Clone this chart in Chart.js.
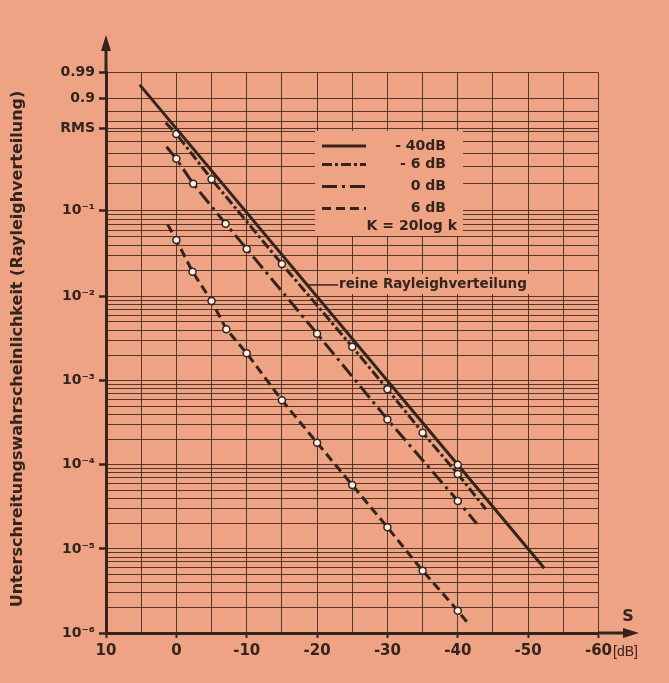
<!DOCTYPE html>
<html>
<head>
<meta charset="utf-8">
<script src="https://cdn.jsdelivr.net/npm/chart.js@4.4.1/dist/chart.umd.min.js"></script>
<style>
  html, body { margin: 0; background: #efa385; }
  canvas { display: block; }
</style>
</head>
<body>
<canvas id="chart" width="669" height="683"></canvas>
<script>
// S in dB (x), Unterschreitungswahrscheinlichkeit P (y)
// each curve: start/end of the drawn line plus the measured (circle) points

// -40 dB = reine Rayleighverteilung
const rayEndDb = [5.2, -52.3];
const rayEndP = [0.963, 5.9e-6];
const rayMarkDb = [-40];
const rayMarkP = [1e-4];

// -6 dB
const m6EndDb = [1.5, -44];
const m6EndP = [0.69, 2.96e-5];
const m6MarkDb = [0, -5, -15, -25, -30, -35, -40];
const m6MarkP = [0.576, 0.221, 0.0241, 2.53e-3, 7.9e-4, 2.41e-4, 7.8e-5];

// 0 dB
const z0EndDb = [1.4, -42.7];
const z0EndP = [0.454, 2.0e-5];
const z0MarkDb = [0, -2.4, -7, -10, -20, -30, -40];
const z0MarkP = [0.353, 0.197, 0.071, 0.0363, 3.62e-3, 3.47e-4, 3.72e-5];

// 6 dB
const p6EndDb = [1.25, -41.4];
const p6EndP = [0.0698, 1.32e-6];
const p6MarkDb = [0, -2.3, -5, -7.1, -10, -15, -20, -25, -30, -35, -40];
const p6MarkP = [0.046, 0.0196, 8.85e-3, 4.1e-3, 2.12e-3, 5.85e-4, 1.83e-4, 5.75e-5, 1.81e-5, 5.5e-6, 1.84e-6];

const legendLabels = ['- 40dB', '- 6 dB', '0 dB', '6 dB'];
const kNote = 'K = 20log k';
const annoText = 'reine Rayleighverteilung';

const xTicks = [10, 0, -10, -20, -30, -40, -50, -60];
const xTickLabels = ['10', '0', '-10', '-20', '-30', '-40', '-50', '-60'];
const yTickP = [1e-6, 1e-5, 1e-4, 1e-3, 1e-2, 1e-1, 1 - Math.exp(-1), 0.9, 0.99];
const yTickLabels = ['10⁻⁶', '10⁻⁵', '10⁻⁴', '10⁻³', '10⁻²', '10⁻¹', 'RMS', '0.9', '0.99'];
const yTopGridP = [0.2, 0.3, 0.4, 0.5, 0.6, 0.7, 0.8];

const BG = '#efa385';
const INK = '#34241c';
const GRID = 'rgba(60,36,26,0.85)';

// Rayleigh paper: the axis is logarithmic in -ln(1-P)
const ray = p => -Math.log(1 - p);

function curve(endDb, endP, markDb, markP) {
  const pts = markDb.map((d, i) => ({ x: d, y: ray(markP[i]) }));
  pts.unshift({ x: endDb[0], y: ray(endP[0]) });
  pts.push({ x: endDb[1], y: ray(endP[1]) });
  return pts;
}

// horizontal grid: log minors in the lower decades, P lines in the top one
const gridP = [];
for (let n = -6; n <= -2; n++) {
  for (let k = 1; k <= 9; k++) gridP.push(k * Math.pow(10, n));
}
yTopGridP.forEach(p => gridP.push(p));
yTickP.forEach(p => { if (!gridP.some(g => Math.abs(g - p) < p * 1e-9)) gridP.push(p); });
gridP.sort((a, b) => a - b);

function yLabelFor(p) {
  const i = yTickP.findIndex(t => Math.abs(t - p) < t * 1e-9);
  return i < 0 ? '' : yTickLabels[i];
}

const markerRadius = ctx => {
  const n = ctx.dataset.data.length;
  return (ctx.dataIndex === 0 || ctx.dataIndex === n - 1) ? 0 : 3.5;
};

function ds(data, dash) {
  return {
    data: data,
    showLine: true,
    borderColor: INK,
    borderWidth: 3,
    borderDash: dash,
    pointRadius: markerRadius,
    pointBackgroundColor: '#fbeee6',
    pointBorderColor: INK,
    pointBorderWidth: 1.5,
    tension: 0
  };
}

const decor = {
  id: 'decor',
  beforeDatasetsDraw(chart) {
    const c = chart.ctx;
    const xs = chart.scales.x, ys = chart.scales.y;
    c.save();
    // boxes that cover the grid
    c.fillStyle = BG;
    c.fillRect(315, 131, 148, 105);
    c.fillRect(336, 274, 196, 20);

    // legend
    const rows = [146, 164.5, 186.5, 208.5];
    chart.data.datasets.forEach((d, i) => {
      c.strokeStyle = INK;
      c.lineWidth = 3;
      c.setLineDash(d.borderDash);
      c.beginPath();
      c.moveTo(322, rows[i]);
      c.lineTo(366, rows[i]);
      c.stroke();
      c.setLineDash([]);
      c.fillStyle = INK;
      c.font = 'bold 14px "DejaVu Sans"';
      c.textAlign = 'right';
      c.textBaseline = 'middle';
      c.fillText(legendLabels[i], 446, rows[i]);
    });
    c.fillText(kNote, 457, 226);

    // annotation with leader line to the solid curve
    const ax = xs.getPixelForValue(-18.6);
    const ay = ys.getPixelForValue(ray(0.0137));
    c.lineWidth = 1.5;
    c.beginPath();
    c.moveTo(ax, ay);
    c.lineTo(338, ay);
    c.stroke();
    c.font = 'bold 13.5px "DejaVu Sans"';
    c.textAlign = 'left';
    c.fillText(annoText, 339, ay);
    c.restore();
  },
  afterDraw(chart) {
    const c = chart.ctx;
    const a = chart.chartArea;
    c.save();
    c.strokeStyle = INK;
    c.fillStyle = INK;
    c.lineWidth = 3;
    // y axis arrow
    c.beginPath();
    c.moveTo(a.left, a.top);
    c.lineTo(a.left, 46);
    c.stroke();
    c.beginPath();
    c.moveTo(a.left, 35);
    c.lineTo(a.left - 5, 51);
    c.lineTo(a.left + 5, 51);
    c.closePath();
    c.fill();
    // x axis arrow
    c.beginPath();
    c.moveTo(a.right, a.bottom);
    c.lineTo(628, a.bottom);
    c.stroke();
    c.beginPath();
    c.moveTo(639, a.bottom);
    c.lineTo(623, a.bottom - 5);
    c.lineTo(623, a.bottom + 5);
    c.closePath();
    c.fill();

    c.textBaseline = 'middle';
    c.font = 'bold 16px "DejaVu Sans"';
    c.textAlign = 'center';
    c.fillText('S', 628, 617);
    c.font = '14px "Liberation Sans"';
    c.textAlign = 'left';
    c.fillText('[dB]', 613, 652);

    // y axis title
    c.translate(18, 349);
    c.rotate(-Math.PI / 2);
    c.font = 'bold 16px "DejaVu Sans"';
    c.textAlign = 'center';
    c.fillText('Unterschreitungswahrscheinlichkeit (Rayleighverteilung)', 0, 0);
    c.restore();
  }
};

new Chart(document.getElementById('chart'), {
  type: 'scatter',
  data: {
    datasets: [
      ds(curve(rayEndDb, rayEndP, rayMarkDb, rayMarkP), []),
      ds(curve(m6EndDb, m6EndP, m6MarkDb, m6MarkP), [10, 3, 3, 3]),
      ds(curve(z0EndDb, z0EndP, z0MarkDb, z0MarkP), [15, 5, 3, 5]),
      ds(curve(p6EndDb, p6EndP, p6MarkDb, p6MarkP), [9, 5])
    ]
  },
  options: {
    responsive: false,
    animation: false,
    layout: { padding: { left: 0, top: 72.7, right: 70.5, bottom: 0 } },
    plugins: { legend: { display: false }, tooltip: { enabled: false } },
    scales: {
      x: {
        type: 'linear',
        min: -60,
        max: 10,
        reverse: true,
        afterFit: s => { s.height = 50; },
        grid: {
          color: GRID,
          lineWidth: 1,
          tickLength: 5,
          tickWidth: 2,
          tickColor: ctx => (ctx.tick && xTicks.includes(ctx.tick.value)) ? INK : 'rgba(0,0,0,0)'
        },
        border: { display: true, color: INK, width: 3 },
        ticks: {
          stepSize: 5,
          autoSkip: false,
          maxRotation: 0,
          padding: 4,
          color: INK,
          font: { family: 'DejaVu Sans', weight: 'bold', size: 15 },
          callback: v => {
            const i = xTicks.indexOf(v);
            return i < 0 ? '' : xTickLabels[i];
          }
        }
      },
      y: {
        type: 'logarithmic',
        min: ray(yTickP[0]),
        max: ray(0.99),
        afterBuildTicks: s => {
          s.ticks = gridP.map(p => ({ value: ray(p), lab: yLabelFor(p) }));
        },
        afterFit: s => { s.width = 106; },
        grid: {
          color: GRID,
          lineWidth: 1,
          tickLength: 7,
          tickWidth: 2.5,
          tickColor: ctx => (ctx.tick && ctx.tick.lab) ? INK : 'rgba(0,0,0,0)'
        },
        border: { display: true, color: INK, width: 3 },
        ticks: {
          autoSkip: false,
          padding: 4,
          color: INK,
          font: { family: 'DejaVu Sans', weight: 'bold', size: 14 },
          callback: (v, i, ticks) => ticks[i].lab
        }
      }
    }
  },
  plugins: [decor]
});
</script>
</body>
</html>
